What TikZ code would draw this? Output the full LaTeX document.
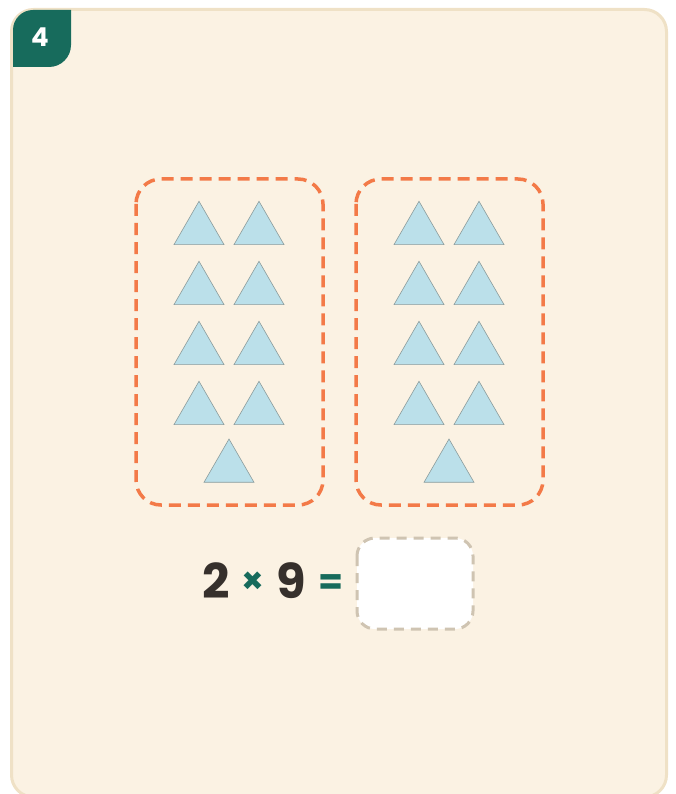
\documentclass[tikz,border=0pt]{standalone}
\usepackage{fontspec}
\setmainfont{Poppins}
\usepackage{tikz}
\usetikzlibrary{shapes.geometric, positioning}
\definecolor{cardfill}{RGB}{251,242,227}
\definecolor{cardline}{RGB}{239,225,198}
\definecolor{badgegreen}{RGB}{23,107,92}
\definecolor{grouporange}{RGB}{243,122,72}
\definecolor{trifill}{RGB}{187,224,234}
\definecolor{triline}{RGB}{140,156,156}
\definecolor{numdark}{RGB}{54,48,44}
\definecolor{boxline}{RGB}{207,196,178}

\begin{document}
\begin{tikzpicture}[
  x=1pt, y=-1pt,
  group/.style={draw=grouporange, line width=3.5pt, dash pattern=on 12pt off 7pt, rounded corners=25pt},
  tri/.style={regular polygon, regular polygon sides=3, minimum size=57.7pt, inner sep=0pt, outer sep=0pt, fill=trifill, draw=triline, line width=0.6pt},
  eqtxt/.style={font=\fontsize{48}{50}\selectfont\bfseries, inner sep=0pt, anchor=base},
]
  \useasboundingbox (0,0) rectangle (675,794);

  % Card
  \draw[fill=cardfill, draw=cardline, line width=3pt, rounded corners=22pt] (11.5,9.5) rectangle (666.5,797);

  % Badge
  \fill[badgegreen] (13,67) -- (13,30) arc[start angle=180, end angle=270, radius=20] -- (71,10)
    -- (71,45) arc[start angle=0, end angle=90, radius=22] -- cycle;
  \node[text=white, font=\fontsize{26}{28}\selectfont\bfseries] (num) at (40,37) {4};

  % Groups
  \draw[group] (136,179) rectangle (323,505);
  \draw[group] (356,179) rectangle (543,505);

  % Triangles, left group
  \foreach \r in {1,...,4} {
    \node[tri] (l-\r-a) at (199, {170.13+60*\r}) {};
    \node[tri] (l-\r-b) at (259, {170.13+60*\r}) {};
  }
  \node[tri] (l-5) at (229,467.87) {};

  % Triangles, right group
  \foreach \r in {1,...,4} {
    \node[tri] (r-\r-a) at (419, {170.13+60*\r}) {};
    \node[tri] (r-\r-b) at (479, {170.13+60*\r}) {};
  }
  \node[tri] (r-5) at (449,467.87) {};

  % Equation
  \node[eqtxt, text=numdark] (two) at (216,598) {2};
  \node[eqtxt, text=badgegreen, font=\fontsize{36}{40}\selectfont\bfseries] (times) at (253,593) {×};
  \node[eqtxt, text=numdark] (nine) at (291,598) {9};
  \node[eqtxt, text=badgegreen, font=\fontsize{36}{40}\selectfont\bfseries] (eq) at (331,594) {=};
  \draw[fill=white, draw=boxline, line width=3pt, dash pattern=on 10pt off 7pt, rounded corners=18pt] (357,538) rectangle (473,629);
\end{tikzpicture}
\end{document}
